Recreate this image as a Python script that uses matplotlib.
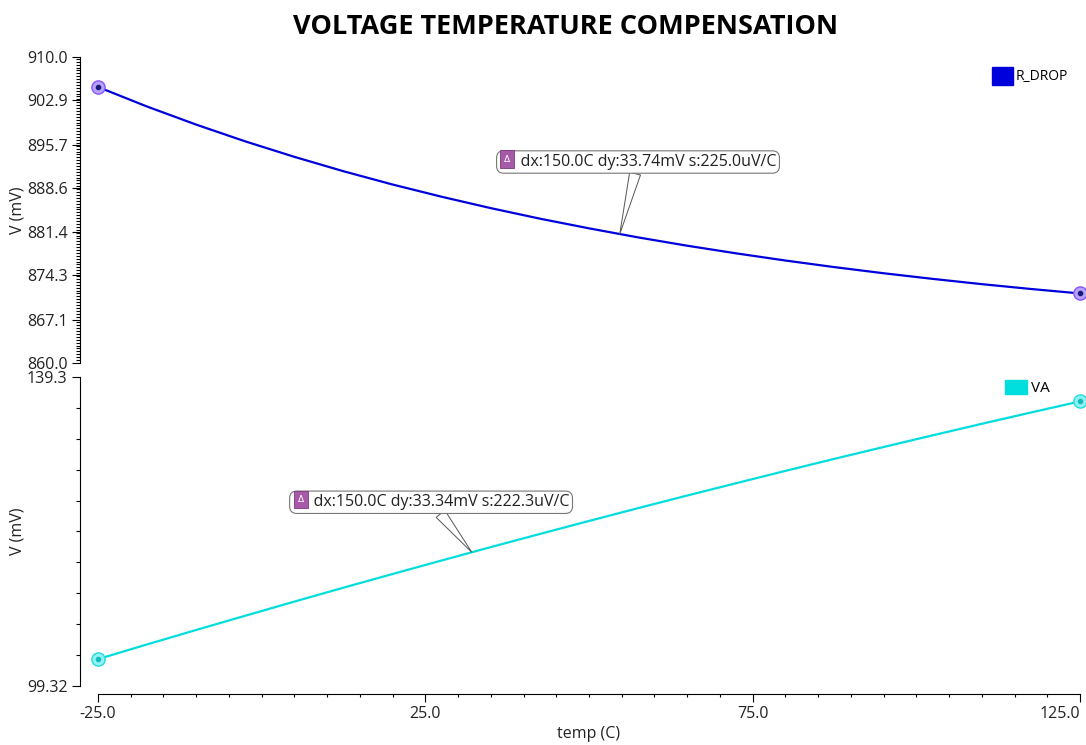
import numpy as np
import matplotlib
matplotlib.use('Agg')
import matplotlib.pyplot as plt
from matplotlib.patches import Patch
from matplotlib.ticker import FixedLocator, AutoMinorLocator, MultipleLocator

plt.rcParams['font.family'] = ['Open Sans', 'DejaVu Sans']
plt.rcParams['font.size'] = 11.5

# sweep points (C) and node voltages (mV)
temp = [-25.0, -17.5, -10.0, -2.5, 5.0, 12.5, 20.0, 27.5, 35.0, 42.5, 50.0,
        57.5, 65.0, 72.5, 80.0, 87.5, 95.0, 102.5, 110.0, 117.5, 125.0]
r_drop = [905.10, 901.90, 898.95, 896.21, 893.68, 891.33, 889.16, 887.16, 885.30, 883.58, 882.00,
          880.52, 879.16, 877.91, 876.74, 875.66, 874.66, 873.74, 872.88, 872.09, 871.36]
va = [102.80, 104.70, 106.57, 108.41, 110.24, 112.04, 113.81, 115.56, 117.29, 118.99, 120.67,
      122.33, 123.96, 125.56, 127.15, 128.71, 130.24, 131.75, 133.24, 134.70, 136.14]

x_ticks = [-25.0, 25.0, 75.0, 125.0]
top_ticks = [860.0, 867.1, 874.3, 881.4, 888.6, 895.7, 902.9, 910.0]
bot_ticks = [99.32, 139.3]

# delta markers: (temp where the callout points, text)
drop_delta = (54.7, 'dx:150.0C dy:33.74mV s:225.0uV/C')
va_delta = (32.1, 'dx:150.0C dy:33.34mV s:222.3uV/C')

BLUE = '#0000dd'
CYAN = '#00dddd'
PX = 0.72  # points per pixel at 100 dpi

fig = plt.figure(figsize=(10.86, 7.45), dpi=100)
ax1 = fig.add_axes([98/1086, 0.5128, 982/1086, 0.4107])
ax2 = fig.add_axes([98/1086, 0.0792, 982/1086, 0.4148])

for ax in (ax1, ax2):
    ax.set_xlim(-25, 125)
    ax.spines['top'].set_visible(False)
    ax.spines['right'].set_visible(False)
    ax.spines['left'].set_position(('outward', 13))
    ax.tick_params(axis='y', which='major', length=5.5, width=0.8, colors='black', labelcolor='#222222')
    ax.tick_params(axis='y', which='minor', length=2.8, width=0.8)
    ax.set_ylabel('V (mV)', color='#222222')
    ax.yaxis.set_label_coords(-0.0743, 0.5)

# upper panel
ax1.spines['bottom'].set_visible(False)
ax1.tick_params(axis='x', which='both', bottom=False, labelbottom=False)
ax1.set_ylim(860, 910)
ax1.yaxis.set_major_locator(FixedLocator(top_ticks))
ax1.set_yticklabels(['%.1f' % t for t in top_ticks])
ax1.yaxis.set_minor_locator(AutoMinorLocator(15))

# lower panel
ax2.spines['bottom'].set_position(('outward', 6))
ax2.set_ylim(99.32, 139.3)
ax2.yaxis.set_major_locator(FixedLocator(bot_ticks))
ax2.set_yticklabels(['99.32', '139.3'])
ax2.yaxis.set_minor_locator(FixedLocator(np.linspace(99.32, 139.3, 11)[1:-1]))
ax2.tick_params(axis='y', which='minor', length=3.0)
ax2.xaxis.set_major_locator(FixedLocator(x_ticks))
xlabels = ax2.set_xticklabels(['%.1f' % t for t in x_ticks])
xlabels[-1].set_ha('right')
ax2.xaxis.set_minor_locator(MultipleLocator(5))
ax2.tick_params(axis='x', which='major', length=5.5, width=0.8, labelcolor='#222222', pad=3)
ax2.tick_params(axis='x', which='minor', length=2.5, width=0.8)
ax2.set_xlabel('temp (C)', color='#222222', labelpad=3)

# curves
ax1.plot(temp, r_drop, color=BLUE, lw=1.6, zorder=3)
ax2.plot(temp, va, color=CYAN, lw=1.6, zorder=3)

# endpoint markers
ends = [temp[0], temp[-1]]
ax1.plot(ends, [r_drop[0], r_drop[-1]], 'o', ms=9.5, mfc='#b8a2ff', mec='#8855ff', mew=1.0, zorder=4, clip_on=False)
ax1.plot(ends, [r_drop[0], r_drop[-1]], 'o', ms=3, color='#1a1a7a', zorder=5, clip_on=False)
ax2.plot(ends, [va[0], va[-1]], 'o', ms=9.5, mfc='#90f2f2', mec='#22dddd', mew=1.0, zorder=4, clip_on=False)
ax2.plot(ends, [va[0], va[-1]], 'o', ms=3, color='#14bcbc', zorder=5, clip_on=False)

# legends
ax1.legend(handles=[Patch(color=BLUE, label='R_DROP')], loc='upper right', bbox_to_anchor=(0.988, 0.968),
           borderaxespad=0, borderpad=0, frameon=False, handlelength=1.5, handleheight=1.6,
           handletextpad=0.2, fontsize=10)
ax2.legend(handles=[Patch(color=CYAN, label='VA')], loc='upper right', bbox_to_anchor=(0.9695, 0.99),
           borderaxespad=0, borderpad=0, frameon=False, handlelength=1.47, handleheight=1.05,
           handletextpad=0.25, fontsize=11)


def callout(ax, xs, ys, where, label, text_off, icon_off):
    px = where
    py = np.interp(where, xs, ys)
    ax.annotate('     ' + label, xy=(px, py),
                xytext=(text_off[0] * PX, text_off[1] * PX), textcoords='offset points',
                ha='left', va='center', color='#222222', zorder=6,
                bbox=dict(boxstyle='round,pad=0.2,rounding_size=0.45', fc='white', ec='#777777', lw=0.8),
                arrowprops=dict(arrowstyle='wedge,tail_width=0.7,shrink_factor=0.5', fc='white',
                                ec='#555555', lw=0.7, shrinkA=0, shrinkB=0))
    ax.annotate('Δ', xy=(px, py), xytext=(icon_off[0] * PX, icon_off[1] * PX), textcoords='offset points',
                ha='center', va='center', fontsize=6.5, color='white', zorder=7,
                family=['DejaVu Sans'],
                bbox=dict(boxstyle='square,pad=0.45', fc='#a75aa7', ec='#7b3a7b', lw=0.6))


# offsets in pixels from the pointed-at spot (text start, icon centre)
callout(ax1, temp, r_drop, drop_delta[0], drop_delta[1], (-120, 72), (-113, 75))
callout(ax2, temp, va, va_delta[0], va_delta[1], (-179, 50), (-171, 53))

fig.text(566/1086, 0.9638, 'VOLTAGE TEMPERATURE COMPENSATION', ha='center', va='center',
         fontsize=19.5, fontweight='bold', color='black')

fig.savefig('out.png', dpi=100)
